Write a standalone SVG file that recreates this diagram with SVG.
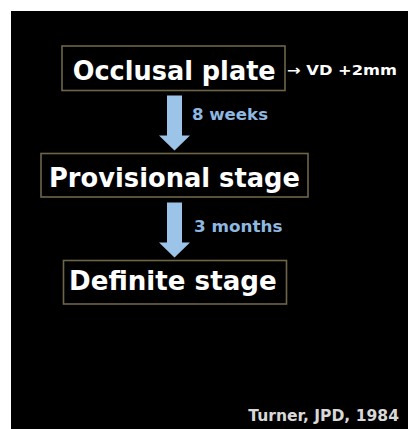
<svg xmlns="http://www.w3.org/2000/svg" width="408" height="429" viewBox="0 0 408 429">
<style>
.box{fill:#000;stroke:#6e6548;stroke-width:1.6}
.main{font-family:"DejaVu Sans","Liberation Sans",sans-serif;font-weight:bold;font-size:26.5px;fill:#fff}
.lbl{font-family:"DejaVu Sans","Liberation Sans",sans-serif;font-weight:bold;font-size:15.5px;fill:#8fb8e0}
.note{font-family:"DejaVu Sans","Liberation Sans",sans-serif;font-weight:bold;font-size:14px;fill:#fff}
.cite{font-family:"DejaVu Sans","Liberation Sans",sans-serif;font-weight:bold;font-size:15.5px;fill:#d8d8d8}
.arrow{fill:#9cc3e8}
</style>
<rect x="0" y="0" width="408" height="429" fill="#fff"/>
<rect x="11" y="11" width="397" height="418" fill="#000"/>
<g id="connectors">
<g id="arrow1">
<polygon class="arrow" points="167,95.5 182,95.5 182,135.5 190,135.5 174.5,150.5 159,135.5 167,135.5"/>
<text class="lbl" x="192" y="119.8" textLength="76" lengthAdjust="spacingAndGlyphs">8 weeks</text>
</g>
<g id="arrow2">
<polygon class="arrow" points="167,202.5 182,202.5 182,242.5 190,242.5 174.5,257.5 159,242.5 167,242.5"/>
<text class="lbl" x="194" y="231.5" textLength="88.5" lengthAdjust="spacingAndGlyphs">3 months</text>
</g>
</g>
<g id="node-occlusal">
<rect class="box" x="62" y="46" width="223" height="44.5"/>
<text class="main" x="72.7" y="80" textLength="203" lengthAdjust="spacingAndGlyphs">Occlusal plate</text>
<text class="note" x="287" y="74.5" textLength="110" lengthAdjust="spacingAndGlyphs">→ VD +2mm</text>
</g>
<g id="node-provisional">
<rect class="box" x="41" y="153.5" width="267" height="43.5"/>
<text class="main" x="49" y="186.7" textLength="251" lengthAdjust="spacingAndGlyphs">Provisional stage</text>
</g>
<g id="node-definite">
<rect class="box" x="63.5" y="260.5" width="223" height="43.5"/>
<text class="main" x="69" y="290" textLength="207.7" lengthAdjust="spacingAndGlyphs">Definite stage</text>
</g>
<text class="cite" x="248.3" y="420.5" textLength="150.7" lengthAdjust="spacingAndGlyphs">Turner, JPD, 1984</text>
</svg>
